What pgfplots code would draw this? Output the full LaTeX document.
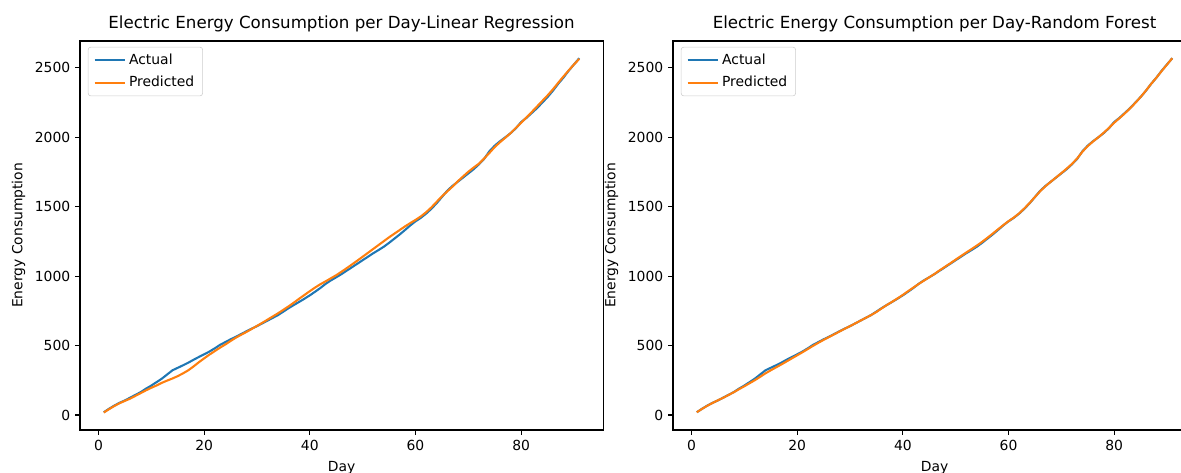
\documentclass[border=0pt]{standalone}
\usepackage{fontspec}
\setmainfont{DejaVu Sans}
\usepackage{pgfplots}
\usepackage{pgfplotstable}
\pgfplotsset{compat=1.18}

\definecolor{mplblue}{HTML}{1F77B4}
\definecolor{mplorange}{HTML}{FF7F0E}

% day, actual, linear regression, random forest
\pgfplotstableread{
day actual lr rf
1 20 18 20
2 45 42 44
3 68 65 67
4 88 85 87
5 105 102 106
6 125 118 124
7 145 138 144
8 165 158 164
9 190 178 186
10 212 196 207
11 237 213 229
12 262 232 251
13 292 248 275
14 322 263 300
15 340 280 322
16 358 300 343
17 377 322 364
18 398 350 386
19 418 380 408
20 437 408 430
21 457 435 452
22 480 460 475
23 505 485 498
24 525 508 520
25 545 533 541
26 563 557 561
27 583 578 581
28 603 598 601
29 622 620 621
30 640 642 640
31 660 664 660
32 680 687 680
33 700 710 700
34 720 733 720
35 745 758 742
36 770 783 768
37 793 810 793
38 815 838 816
39 838 865 840
40 862 892 865
41 888 918 892
42 915 942 918
43 945 963 944
44 970 985 968
45 992 1007 992
46 1015 1032 1016
47 1040 1058 1043
48 1065 1085 1068
49 1090 1112 1093
50 1115 1140 1119
51 1140 1168 1145
52 1165 1196 1170
53 1188 1224 1195
54 1212 1252 1220
55 1240 1280 1247
56 1270 1306 1276
57 1300 1332 1306
58 1332 1358 1337
59 1365 1382 1367
60 1395 1405 1396
61 1420 1430 1422
62 1450 1460 1452
63 1485 1495 1488
64 1525 1535 1527
65 1570 1575 1570
66 1615 1610 1612
67 1650 1645 1648
68 1680 1683 1680
69 1710 1718 1711
70 1740 1752 1742
71 1770 1782 1774
72 1805 1810 1808
73 1845 1848 1848
74 1900 1888 1897
75 1940 1930 1937
76 1972 1965 1970
77 2000 1997 2000
78 2030 2030 2032
79 2065 2068 2067
80 2110 2105 2105
81 2140 2143 2138
82 2175 2182 2172
83 2210 2222 2208
84 2250 2262 2248
85 2290 2302 2290
86 2335 2345 2336
87 2385 2392 2385
88 2430 2438 2430
89 2480 2482 2478
90 2525 2525 2524
91 2570 2565 2570
}\energy

\pgfplotsset{
  mpl/.style={
    width=376.6pt, height=280.1pt, scale only axis,
    xmin=-3.5, xmax=95.5, ymin=-108, ymax=2694,
    xtick={0,20,...,80}, ytick={0,500,...,2500},
    tick align=outside, tick pos=left,
    major tick length=3.5pt,
    every tick/.style={black, line width=0.8pt},
    axis line style={line width=0.8pt},
    ticklabel style={font=\fontsize{10}{12}\selectfont},
    /pgf/number format/assume math mode=true,
    /pgf/number format/set thousands separator={},
    title style={font=\fontsize{12}{14}\selectfont, at={(0.5,1)}, anchor=south, yshift=-3pt},
    xlabel={Day}, ylabel={Energy Consumption},
    label style={font=\fontsize{10}{12}\selectfont},
    xlabel style={yshift=-1pt},
    ylabel style={yshift=0pt},
    legend style={at={(0.015,0.985)}, anchor=north west, draw=black!20,
      rounded corners=2pt, font=\fontsize{10}{12}\selectfont,
      inner xsep=4pt, inner ysep=3pt, row sep=3pt,
      /tikz/every even column/.append style={column sep=7pt}},
    legend cell align=left,
    legend image code/.code={\draw[##1, line width=1.5pt] (0pt,0pt) -- (22pt,0pt);},
  }
}

\begin{document}
\begin{tikzpicture}
\begin{axis}[mpl, title={Electric Energy Consumption per Day-Linear Regression}]
\addplot[mplblue, line width=1.5pt] table[x=day, y=actual] {\energy};
\addlegendentry{Actual}
\addplot[mplorange, line width=1.5pt] table[x=day, y=lr] {\energy};
\addlegendentry{Predicted}
\end{axis}
\begin{axis}[mpl, xshift=426.96pt, title={Electric Energy Consumption per Day-Random Forest}]
\addplot[mplblue, line width=1.5pt] table[x=day, y=actual] {\energy};
\addlegendentry{Actual}
\addplot[mplorange, line width=1.5pt] table[x=day, y=rf] {\energy};
\addlegendentry{Predicted}
\end{axis}
\pgfresetboundingbox
\path[use as bounding box] (-57.6pt,-30.24pt) rectangle (792.72pt,309.6pt);
\end{tikzpicture}
\end{document}
